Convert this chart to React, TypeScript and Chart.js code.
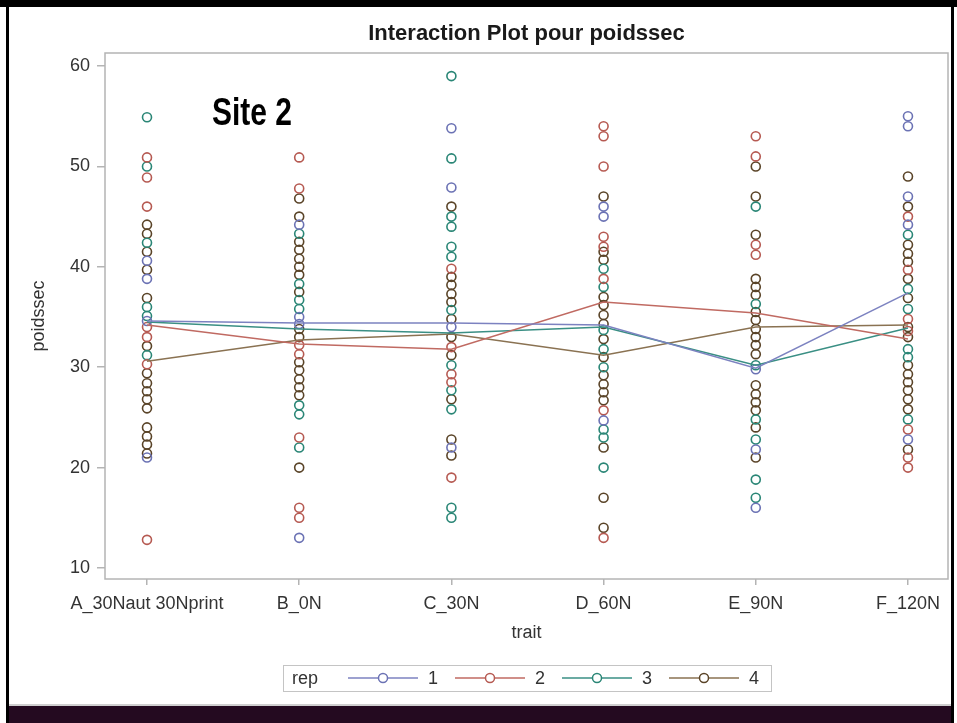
import { useEffect, useRef } from "react";
import { Chart, registerables } from "chart.js";

Chart.register(...registerables);

// ---------- data ----------
const categories = ["A_30Naut 30Nprint", "B_0N", "C_30N", "D_60N", "E_90N", "F_120N"];
const repLabels = ["1", "2", "3", "4"];
const yTickValues = [10, 20, 30, 40, 50, 60];

// individual observations per trait (one list per category)
const rep1Points = [
  [40.6, 38.8, 34.6, 21.0],
  [44.2, 35.0, 34.3, 13.0],
  [53.8, 47.9, 34.0, 22.0],
  [46.0, 45.0, 24.7],
  [29.8, 21.8, 16.0],
  [55.0, 54.0, 47.0, 44.2, 22.8],
];
const rep2Points = [
  [50.9, 48.9, 46.0, 34.0, 33.0, 30.3, 12.8],
  [50.9, 47.8, 32.2, 31.3, 23.0, 16.0, 15.0],
  [39.8, 32.0, 29.3, 28.5, 19.0],
  [54.0, 53.0, 50.0, 43.0, 42.0, 38.8, 25.7, 13.0],
  [53.0, 51.0, 42.2, 41.2],
  [45.0, 39.7, 34.8, 33.6, 23.8, 21.0, 20.0],
];
const rep3Points = [
  [54.9, 50.0, 42.4, 36.0, 35.1, 31.2],
  [43.3, 38.3, 36.7, 35.8, 26.2, 25.3, 22.0],
  [59.0, 50.8, 45.0, 44.0, 42.0, 41.0, 35.7, 30.2, 27.7, 25.8, 16.0, 15.0],
  [39.8, 38.0, 33.7, 31.8, 30.0, 23.8, 23.0, 20.0],
  [46.0, 36.3, 30.2, 24.8, 22.8, 18.8, 17.0],
  [43.2, 37.8, 35.8, 31.8, 31.0, 24.8],
];
const rep4Points = [
  [44.2, 43.3, 41.5, 39.7, 36.9, 32.1, 29.4, 28.4, 27.6, 26.8, 25.9, 24.0, 23.1, 22.3, 21.4],
  [46.8, 45.0, 42.5, 41.7, 40.8, 40.0, 39.2, 37.5, 33.8, 33.0, 30.5, 29.7, 28.8, 28.0, 27.2, 20.0],
  [46.0, 39.0, 38.2, 37.3, 36.5, 34.8, 33.0, 31.2, 26.8, 22.8, 21.2],
  [47.0, 41.5, 40.7, 37.0, 36.2, 35.2, 34.3, 32.8, 31.0, 29.2, 28.3, 27.5, 26.7, 22.0, 17.0, 14.0],
  [50.0, 47.0, 43.2, 38.8, 38.0, 37.2, 35.5, 34.7, 33.8, 33.0, 32.2, 31.3, 28.2, 27.3, 26.5, 25.7, 24.0, 21.0],
  [49.0, 46.0, 42.2, 41.3, 40.5, 38.8, 36.9, 34.0, 33.0, 30.2, 29.3, 28.5, 27.7, 26.8, 25.8, 21.8],
];

// mean per trait (interaction lines)
const rep1Means = [34.6, 34.4, 34.4, 34.2, 29.9, 37.4];
const rep2Means = [34.2, 32.3, 31.8, 36.5, 35.4, 32.8];
const rep3Means = [34.5, 33.8, 33.4, 34.0, 30.2, 33.9];
const rep4Means = [30.6, 32.7, 33.3, 31.2, 34.0, 34.2];

// ---------- styles ----------
const markerColors = ["#6b72b4", "#b65a52", "#2a8676", "#5a4428"];
const lineColors = ["#7c82c0", "#c06a62", "#3a8f84", "#8a7252"];
const FONT = '"Liberation Sans", Arial, sans-serif';

const allPoints = [rep1Points, rep2Points, rep3Points, rep4Points];
const allMeans = [rep1Means, rep2Means, rep3Means, rep4Means];

const decoPlugin = {
  id: "deco",
  beforeDraw(chart: any) {
    const ctx = chart.ctx as CanvasRenderingContext2D;
    const W = chart.width;
    const H = chart.height;
    ctx.save();
    ctx.fillStyle = "#ffffff";
    ctx.fillRect(0, 0, W, H);
    ctx.fillStyle = "#000000";
    ctx.fillRect(0, 0, W, 7);
    ctx.fillRect(6, 0, 3, H);
    ctx.fillRect(951, 0, 3, H);
    ctx.fillStyle = "#cfcfcf";
    ctx.fillRect(9, 704, 942, 2);
    ctx.fillStyle = "#240a20";
    ctx.fillRect(9, 706, 942, H - 706);
    ctx.restore();
  },
  afterDraw(chart: any) {
    const ctx = chart.ctx as CanvasRenderingContext2D;
    const a = chart.chartArea;
    ctx.save();
    // plot frame
    ctx.strokeStyle = "#b4b4b4";
    ctx.lineWidth = 1.5;
    ctx.strokeRect(a.left, a.top, a.right - a.left, a.bottom - a.top);

    // title
    ctx.fillStyle = "#1a1a1a";
    ctx.font = `bold 22px ${FONT}`;
    ctx.textAlign = "center";
    ctx.textBaseline = "alphabetic";
    ctx.fillText("Interaction Plot pour poidssec", (a.left + a.right) / 2, 40);

    // axis titles
    ctx.fillStyle = "#333333";
    ctx.font = `18px ${FONT}`;
    ctx.textBaseline = "middle";
    ctx.fillText("trait", (a.left + a.right) / 2, 633);
    ctx.save();
    ctx.translate(39, (a.top + a.bottom) / 2);
    ctx.rotate(-Math.PI / 2);
    ctx.fillText("poidssec", 0, 0);
    ctx.restore();

    // "Site 2" annotation
    ctx.save();
    ctx.font = `bold 38px "Liberation Sans Narrow", ${FONT}`;
    ctx.textAlign = "left";
    ctx.textBaseline = "alphabetic";
    const tw = ctx.measureText("Site 2").width;
    ctx.translate(212, 125);
    ctx.scale(80 / tw, 1);
    ctx.fillStyle = "#000000";
    ctx.fillText("Site 2", 0, 0);
    ctx.restore();

    // legend
    const ly = 678;
    ctx.strokeStyle = "#c4c4c4";
    ctx.lineWidth = 1;
    ctx.strokeRect(283.5, 665.5, 488, 26);
    ctx.font = `18px ${FONT}`;
    ctx.fillStyle = "#333333";
    ctx.textAlign = "left";
    ctx.textBaseline = "middle";
    ctx.fillText("rep", 292, ly + 1);
    const startX = [348, 455, 562, 669];
    repLabels.forEach((lab, k) => {
      const x0 = startX[k];
      ctx.strokeStyle = lineColors[k];
      ctx.lineWidth = 1.5;
      ctx.beginPath();
      ctx.moveTo(x0, ly);
      ctx.lineTo(x0 + 70, ly);
      ctx.stroke();
      ctx.beginPath();
      ctx.fillStyle = "#ffffff";
      ctx.arc(x0 + 35, ly, 4.5, 0, Math.PI * 2);
      ctx.fill();
      ctx.strokeStyle = markerColors[k];
      ctx.stroke();
      ctx.fillStyle = "#333333";
      ctx.fillText(lab, x0 + 80, ly + 1);
    });
    ctx.restore();
  },
};

export default function App() {
  const ref = useRef<HTMLCanvasElement | null>(null);

  useEffect(() => {
    if (!ref.current) return;
    const lineSets = allMeans.map((means, k) => ({
      label: "mean " + repLabels[k],
      data: means.map((v, i) => ({ x: i, y: v })),
      showLine: true,
      borderColor: lineColors[k],
      borderWidth: 1.5,
      pointRadius: 0,
      fill: false,
      tension: 0,
    }));
    const pointSets = allPoints.map((cols, k) => ({
      label: repLabels[k],
      data: cols.flatMap((vals, i) => vals.map((v) => ({ x: i, y: v }))),
      showLine: false,
      pointStyle: "circle",
      pointRadius: 4.5,
      pointBorderWidth: 1.6,
      borderColor: markerColors[k],
      pointBorderColor: markerColors[k],
      backgroundColor: "rgba(0,0,0,0)",
      pointBackgroundColor: "rgba(0,0,0,0)",
    }));

    const chart = new Chart(ref.current, {
      type: "scatter",
      data: { datasets: [...lineSets, ...pointSets] as any },
      options: {
        animation: false,
        responsive: false,
        devicePixelRatio: 1,
        layout: { padding: { left: 0, top: 53, right: 9, bottom: 0 } },
        plugins: {
          legend: { display: false },
          title: { display: false },
          tooltip: { enabled: false },
        },
        scales: {
          x: {
            type: "linear",
            min: -0.276,
            max: 5.263,
            afterBuildTicks: (scale: any) => {
              scale.ticks = categories.map((_, i) => ({ value: i }));
            },
            afterFit: (scale: any) => {
              scale.height = 723 - 579;
            },
            ticks: {
              callback: (v: any) => categories[v as number] ?? "",
              font: { family: FONT, size: 18 },
              color: "#333333",
              padding: 8,
              maxRotation: 0,
              autoSkip: false,
            },
            grid: {
              drawOnChartArea: false,
              drawTicks: true,
              tickLength: 6,
              color: "#b4b4b4",
              lineWidth: 1.5,
            },
            border: { display: false },
          },
          y: {
            type: "linear",
            min: 8.9,
            max: 61.3,
            afterBuildTicks: (scale: any) => {
              scale.ticks = yTickValues.map((v) => ({ value: v }));
            },
            afterFit: (scale: any) => {
              scale.width = 105;
            },
            ticks: {
              font: { family: FONT, size: 18 },
              color: "#333333",
              padding: 7,
            },
            grid: {
              drawOnChartArea: false,
              drawTicks: true,
              tickLength: 8,
              color: "#b4b4b4",
              lineWidth: 1.5,
            },
            border: { display: false },
          },
        },
      },
      plugins: [decoPlugin],
    });
    return () => chart.destroy();
  }, []);

  return (
    <div style={{ position: "fixed", left: 0, top: 0, width: 957, height: 723, background: "#fff" }}>
      <canvas ref={ref} width={957} height={723} style={{ display: "block", width: 957, height: 723 }} />
    </div>
  );
}
